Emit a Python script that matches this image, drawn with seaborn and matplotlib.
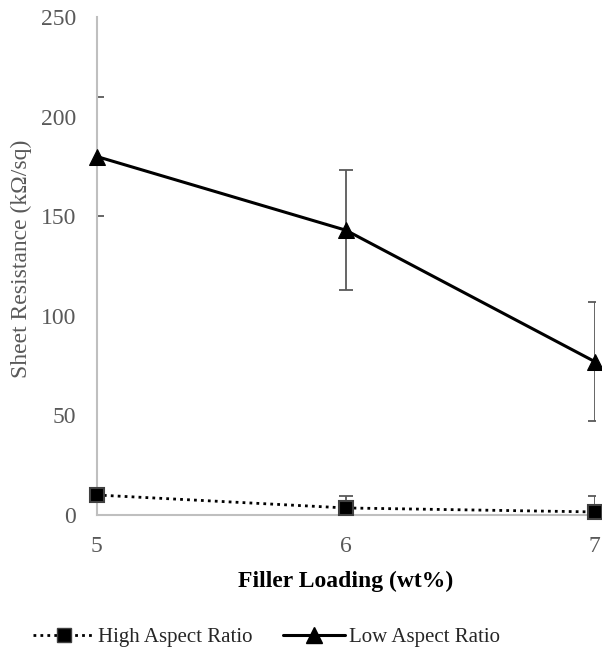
import numpy as np
import seaborn as sns
import matplotlib.pyplot as plt
from matplotlib.lines import Line2D

# data
loading = [5, 6, 7]
high_ar = [10, 3.5, 1.5]
high_err_lo = [10, 0, 0]
high_err_hi = [0, 6, 8]
low_ar = [180, 143, 77]
low_err = [30, 30, 30]

sns.set_style("white")
plt.rcParams['font.family'] = ['Liberation Serif', 'DejaVu Serif']

grey = "#595959"
fig = plt.figure(figsize=(6.02, 6.61), dpi=100)
ax = fig.add_axes([0.161, 0.221, 0.827, 0.753])

# error bars first so markers sit on top
ax.errorbar(loading, low_ar, yerr=low_err, fmt="none", ecolor=grey,
            elinewidth=1.3, capsize=5, capthick=1.3, zorder=2)
ax.errorbar(loading, high_ar, yerr=[high_err_lo, high_err_hi], fmt="none",
            ecolor=grey, elinewidth=1.3, capsize=5, capthick=1.3, zorder=2)

sns.lineplot(x=loading, y=low_ar, ax=ax, color="black", linewidth=2.2,
             marker="^", markersize=12, markeredgecolor="black",
             zorder=3, clip_on=False)
sns.lineplot(x=loading, y=high_ar, ax=ax, color="black", linewidth=2,
             linestyle=(0, (1, 1.5)), marker="s", markersize=10,
             markeredgecolor="#404040", markeredgewidth=1.5,
             zorder=3, clip_on=False)

ax.set_xlim(5, 7)
ax.set_ylim(0, 250)
ax.set_xticks(loading)
ax.set_yticks(range(0, 251, 50))
ax.tick_params(axis="both", length=0, labelsize=17, labelcolor=grey)
ax.tick_params(axis="x", pad=15)
ax.tick_params(axis="y", pad=15)
for s in ["top", "right"]:
    ax.spines[s].set_visible(False)
for s in ["left", "bottom"]:
    ax.spines[s].set_color("#BFBFBF")
    ax.spines[s].set_linewidth(1.5)

ax.set_xlabel("Filler Loading (wt%)", fontsize=17, fontweight="bold",
              color="black", labelpad=10)
ax.set_ylabel("Sheet Resistance (kΩ/sq)", fontsize=17, color=grey)
ax.yaxis.set_label_coords(-0.13, 0.514)

handles = [
    Line2D([], [], color="black", linewidth=2, linestyle=(0, (1, 1.5)),
           marker="s", markersize=10, markeredgecolor="#404040"),
    Line2D([], [], color="black", linewidth=2.2, marker="^", markersize=12),
]
fig.legend(handles, ["High Aspect Ratio", "Low Aspect Ratio"], loc="center",
           bbox_to_anchor=(0.442, 0.036), ncol=2, frameon=False, fontsize=15,
           handlelength=3.0, columnspacing=1.45, handletextpad=0.15)

fig.savefig("out.png", dpi=100)
